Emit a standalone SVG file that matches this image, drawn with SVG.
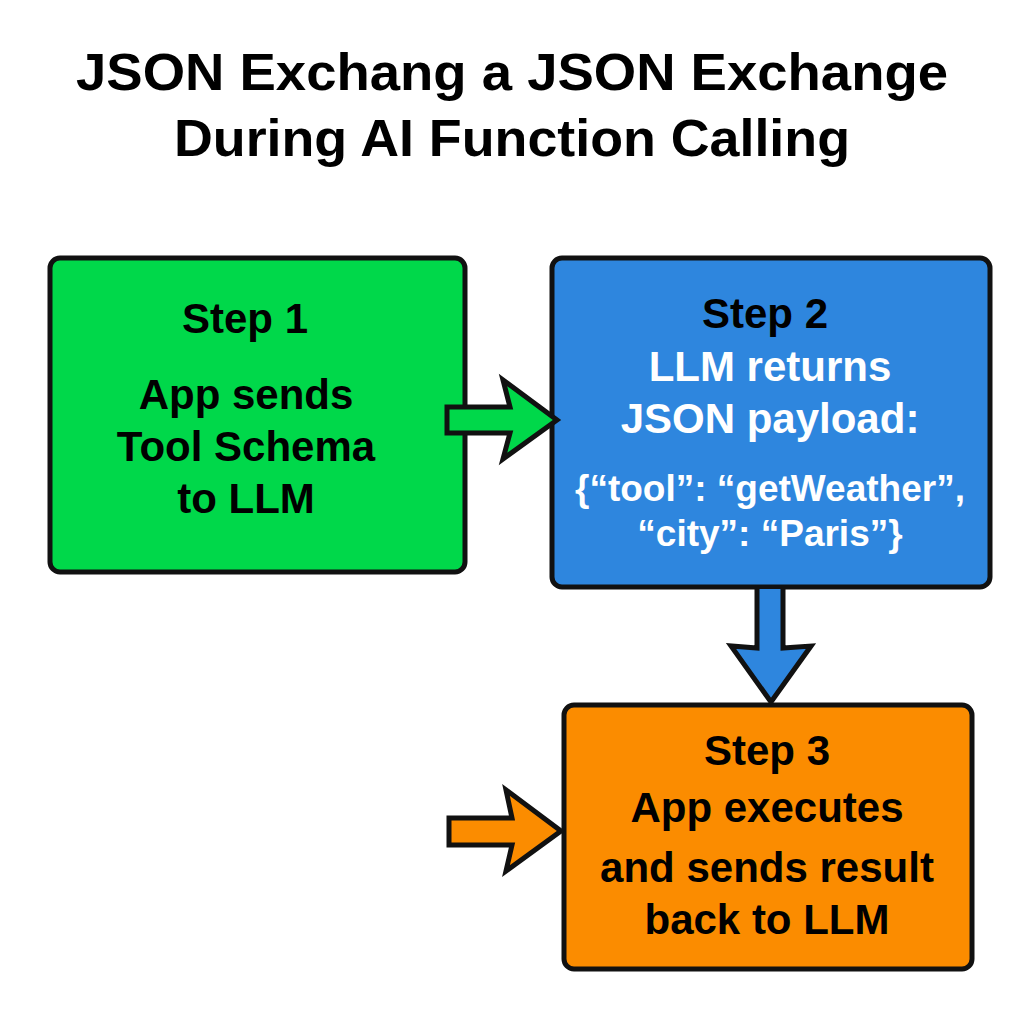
<svg xmlns="http://www.w3.org/2000/svg" width="1024" height="1024" viewBox="0 0 1024 1024">
<style>
text{font-family:"Liberation Sans",Arial,sans-serif;font-weight:bold;text-anchor:middle}
.title{font-size:52px;fill:#000}
.box{stroke:#111;stroke-width:5;stroke-linejoin:round}
.t{font-size:42px}
.k{fill:#000}
.w{fill:#fff}
.arr{stroke:#111;stroke-width:5;stroke-linejoin:miter}
</style>
<rect width="1024" height="1024" fill="#fff"/>
<g id="title">
<text class="title" x="512" y="90" textLength="872" lengthAdjust="spacingAndGlyphs">JSON Exchang a JSON Exchange</text>
<text class="title" x="512" y="156" textLength="676" lengthAdjust="spacingAndGlyphs">During AI Function Calling</text>
</g>
<g id="step1">
<rect class="box" x="50" y="258" width="415" height="314" rx="10" fill="#00d84a"/>
<text class="t k" x="245" y="333">Step 1</text>
<text class="t k" x="246" y="409">App sends</text>
<text class="t k" x="246" y="461">Tool Schema</text>
<text class="t k" x="246" y="513">to LLM</text>
</g>
<g id="step2">
<rect class="box" x="552" y="258" width="438" height="329" rx="10" fill="#2e86de"/>
<text class="t k" x="765" y="328">Step 2</text>
<text class="t w" x="770" y="381">LLM returns</text>
<text class="t w" x="770" y="433">JSON payload:</text>
<text class="w" x="770" y="501" font-size="37">{“tool”: “getWeather”,</text>
<text class="w" x="770" y="546" font-size="37">“city”: “Paris”}</text>
</g>
<g id="step3">
<rect class="box" x="564" y="705" width="408" height="264" rx="10" fill="#fb8c00"/>
<text class="t k" x="767" y="765">Step 3</text>
<text class="t k" x="767" y="822">App executes</text>
<text class="t k" x="767" y="882">and sends result</text>
<text class="t k" x="767" y="934">back to LLM</text>
</g>
<g id="connectors">
<path class="arr" fill="#00d84a" d="M447,407 L510,407 L503,380 L557,420 L503,459 L510,433 L447,433 Z"/>
<path class="arr" fill="#2e86de" d="M757,589 L757,648 L731,646 L771,702 L811,646 L783,648 L783,589"/>
<path class="arr" fill="#fb8c00" d="M449,818 L512,818 L506,790 L561,831 L506,871 L512,845 L449,845 Z"/>
</g>
</svg>
